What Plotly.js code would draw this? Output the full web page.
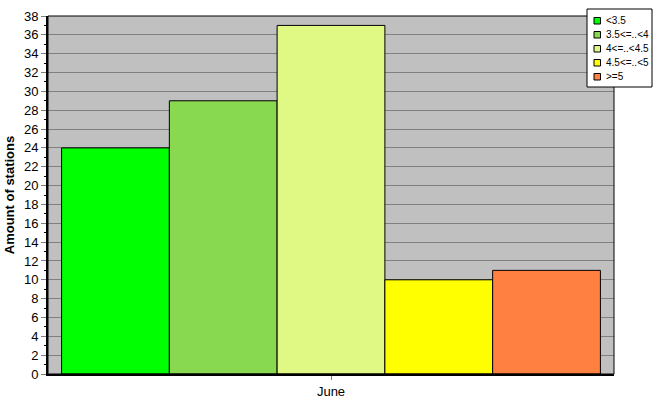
<!DOCTYPE html>
<html><head><meta charset="utf-8">
<script src="https://cdn.plot.ly/plotly-3.0.1.min.js"></script>
<style>body{margin:0;padding:0;background:#fff}#chart{width:667px;height:415px}</style>
</head><body><div id="chart"></div>
<script>
var categories = ['June'];
var seriesNames = ['<3.5', '3.5<=..<4', '4<=..<4.5', '4.5<=..<5', '>=5'];
var seriesValues = [24, 29, 37, 10, 11];
var seriesColors = ['#00FF00', '#88D94F', '#E0F984', '#FFFF00', '#FF8040'];

var W = 667, H = 415, ML = 48, MR = 53, MT = 16, MB = 41;
var PW = W - ML - MR, PH = H - MT - MB;
function px(x){ return (x - ML) / PW; }
function py(y){ return (H - MB - y) / PH; }

var traces = seriesNames.map(function(n, i){
  return {type:'bar', name:n, x:categories, y:[seriesValues[i]],
    marker:{color:seriesColors[i], line:{color:'#000', width:1}}};
});

var shapes = [{type:'rect', xref:'paper', yref:'paper', x0:0, x1:1, y0:0, y1:1,
    line:{color:'#000', width:1}, fillcolor:'rgba(0,0,0,0)', layer:'above'}];
var annotations = [];
shapes.push({type:'rect', xref:'paper', yref:'paper', x0:px(587), x1:px(652), y0:py(87), y1:py(9),
  line:{color:'#000', width:1}, fillcolor:'#fff', layer:'above'});
seriesNames.forEach(function(n, i){
  var cy = 20.5 + i * 14;
  shapes.push({type:'rect', xref:'paper', yref:'paper', x0:px(594), x1:px(600.5), y0:py(cy+3.5), y1:py(cy-3),
    line:{color:'#000', width:1}, fillcolor:seriesColors[i], layer:'above'});
  annotations.push({xref:'paper', yref:'paper', x:px(605), y:py(cy), xanchor:'left', yanchor:'middle',
    text:n, showarrow:false, font:{size:10, family:'Liberation Sans, Arial, sans-serif'}, borderpad:0});
});

var layout = {
  width:W, height:H,
  margin:{l:ML, r:MR, t:MT, b:MB, autoexpand:false},
  paper_bgcolor:'#fff', plot_bgcolor:'#C0C0C0',
  barmode:'group', bargap:0.048, bargroupgap:0,
  font:{family:'Liberation Sans, Arial, sans-serif', size:13, color:'#000'},
  xaxis:{showgrid:false, ticks:'outside', ticklen:4, tickcolor:'#808080',
    showline:true, linecolor:'#000', linewidth:2, zeroline:false,
    tickfont:{size:13}},
  yaxis:{range:[0,38], dtick:2, showgrid:true, gridcolor:'#808080', gridwidth:1,
    ticks:'outside', ticklen:5, tickcolor:'#808080', zeroline:false,
    showline:true, linecolor:'#000', linewidth:2,
    minor:{dtick:1, ticks:'outside', ticklen:2, tickcolor:'#000', showgrid:false},
    title:{text:'Amount of stations', font:{size:13, weight:'bold'}, standoff:6},
    tickfont:{size:13}},
  shapes:shapes, annotations:annotations,
  showlegend:false
};
Plotly.newPlot('chart', traces, layout, {displayModeBar:false, staticPlot:true});
</script></body></html>
